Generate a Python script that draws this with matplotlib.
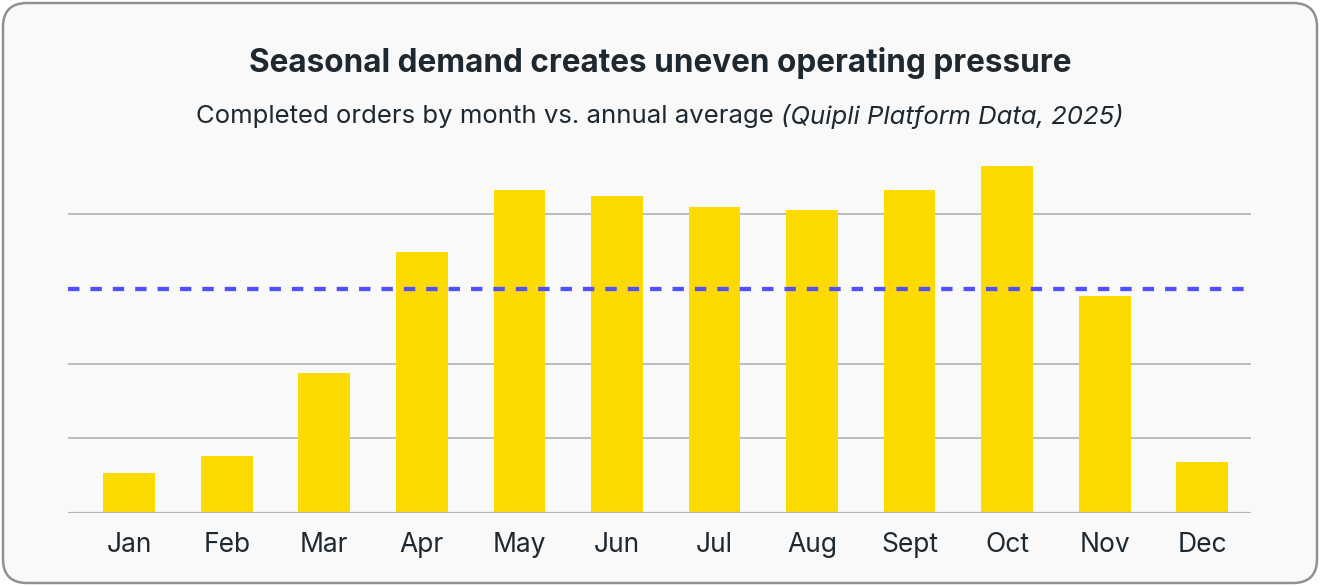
import matplotlib.pyplot as plt
from matplotlib.patches import FancyBboxPatch
import numpy as np

plt.rcParams['font.family'] = ['Inter', 'DejaVu Sans']

months = ["Jan", "Feb", "Mar", "Apr", "May", "Jun", "Jul", "Aug", "Sept", "Oct", "Nov", "Dec"]
# completed orders, in units of one gridline step
orders = [0.53, 0.76, 1.87, 3.49, 4.33, 4.25, 4.10, 4.06, 4.33, 4.64, 2.91, 0.68]
grid_values = [1, 2, 4]

avg = np.mean(orders)

W, H = 1320, 586
fig = plt.figure(figsize=(W / 100, H / 100), dpi=100)
fig.patch.set_facecolor("white")

# card background, drawn in a pixel-unit axes behind everything
bg = fig.add_axes([0, 0, 1, 1], zorder=-1)
bg.set_xlim(0, W)
bg.set_ylim(H, 0)
bg.axis("off")
bg.add_patch(FancyBboxPatch((3, 3), W - 6, H - 6,
                            boxstyle="round,pad=0,rounding_size=24",
                            facecolor="#f9f9f9", edgecolor="#8e9295", linewidth=1.8))

ax = fig.add_axes([68 / W, (H - 513) / H, (1251 - 68) / W, (513 - 150) / H])
ax.set_facecolor("none")
x = np.arange(len(months))
ax.bar(x, orders, width=0.53, color="#fddb00", zorder=3)
for g in grid_values:
    ax.axhline(g, color="#a9abad", linewidth=1.1, zorder=1)
ax.axhline(0, color="#b4b6b8", linewidth=1.6, zorder=4)
ax.axhline(avg, color="#5050ff", linewidth=3.1, dashes=(2.65, 2.55), zorder=5)

ax.set_xlim(-0.627, 11.5)
ax.set_ylim(0, 4.86)
ax.set_xticks(x)
ax.set_xticklabels(months, fontsize=19, color="#1e2830")
ax.tick_params(axis="x", length=0, pad=14)
ax.set_yticks([])
for s in ax.spines.values():
    s.set_visible(False)

fig.text(0.5, 1 - 63 / H, "Seasonal demand creates uneven operating pressure",
         ha="center", va="center", fontsize=22.7, fontweight="bold", color="#1e2830")

# subtitle with italic source part, centred as a whole
fig.canvas.draw()
r = fig.canvas.get_renderer()
t1 = fig.text(0, 1 - 116 / H, "Completed orders by month vs. annual average ",
              ha="left", va="center", fontsize=18.5, color="#1e2830")
t2 = fig.text(0, 1 - 116 / H, "(Quipli Platform Data, 2025)",
              ha="left", va="center", fontsize=18.5, style="italic", color="#1e2830")
w1 = t1.get_window_extent(r).width
w2 = t2.get_window_extent(r).width
start = (W - w1 - w2) / 2
t1.set_x(start / W)
t2.set_x((start + w1) / W)

fig.savefig("out.png", dpi=100, facecolor="white")
